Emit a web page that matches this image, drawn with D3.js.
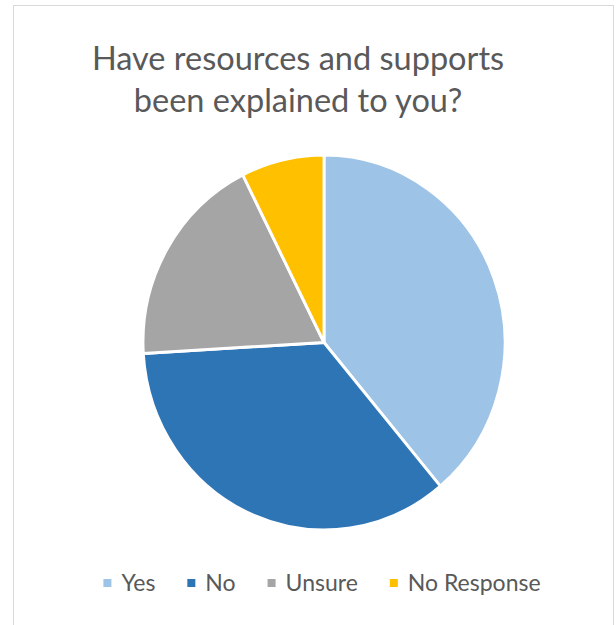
<!DOCTYPE html>
<html>
<head>
<meta charset="utf-8">
<script src="https://cdn.jsdelivr.net/npm/d3@7"></script>
<style>
  html, body { margin: 0; padding: 0; background: #fff; }
  svg { display: block; }
  text { font-family: Lato, "Open Sans", sans-serif; }
</style>
</head>
<body>
<svg id="chart" width="616" height="625"></svg>
<script>
// Survey responses
const categories = ["Yes", "No", "Unsure", "No Response"];
const counts = [21, 19, 10, 4];
const colors = ["#9DC3E6", "#2E75B6", "#A5A5A5", "#FFC000"];
const titleLines = ["Have resources and supports", "been explained to you?"];

const svg = d3.select("#chart");

// chart frame
svg.append("rect")
  .attr("x", 13.5).attr("y", 5.5)
  .attr("width", 600).attr("height", 640)
  .attr("fill", "#fff")
  .attr("stroke", "#d9d9d9").attr("stroke-width", 1);

// title
const title = svg.append("text")
  .attr("text-anchor", "middle")
  .attr("fill", "#595959")
  .style("font-size", "32.5px");
titleLines.forEach((line, i) => {
  title.append("tspan")
    .attr("x", 298)
    .attr("y", 70 + i * 42)
    .text(line);
});

// pie
const cx = 324, cy = 342.5, r = 187.5, sx = 181 / 187.5;
const pie = d3.pie().sort(null).value(d => d)(counts);
const arc = d3.arc().innerRadius(0).outerRadius(r);
const color = d3.scaleOrdinal().domain(categories).range(colors);

const g = svg.append("g")
  .attr("transform", `translate(${cx},${cy}) scale(${sx},1)`);
g.selectAll("path")
  .data(pie)
  .join("path")
  .attr("d", arc)
  .attr("fill", (d, i) => color(categories[i]))
  .attr("stroke", "#fff")
  .attr("stroke-width", 3)
  .attr("stroke-linejoin", "round");

// legend
const legend = svg.append("g").attr("transform", "translate(0,583)");
const items = legend.selectAll("g")
  .data(categories)
  .join("g");
items.append("rect")
  .attr("y", -4).attr("width", 8).attr("height", 8)
  .attr("fill", d => color(d));
items.append("text")
  .attr("x", 18)
  .attr("dy", "0.35em")
  .attr("fill", "#595959")
  .style("font-size", "23px")
  .text(d => d);

// lay out legend entries side by side, centred
const gap = 32;
const widths = [];
items.each(function () { widths.push(18 + this.querySelector("text").getComputedTextLength()); });
const total = d3.sum(widths) + gap * (widths.length - 1);
let x = 322 - total / 2;
items.each(function (d, i) {
  d3.select(this).attr("transform", `translate(${x},0)`);
  x += widths[i] + gap;
});
</script>
</body>
</html>
